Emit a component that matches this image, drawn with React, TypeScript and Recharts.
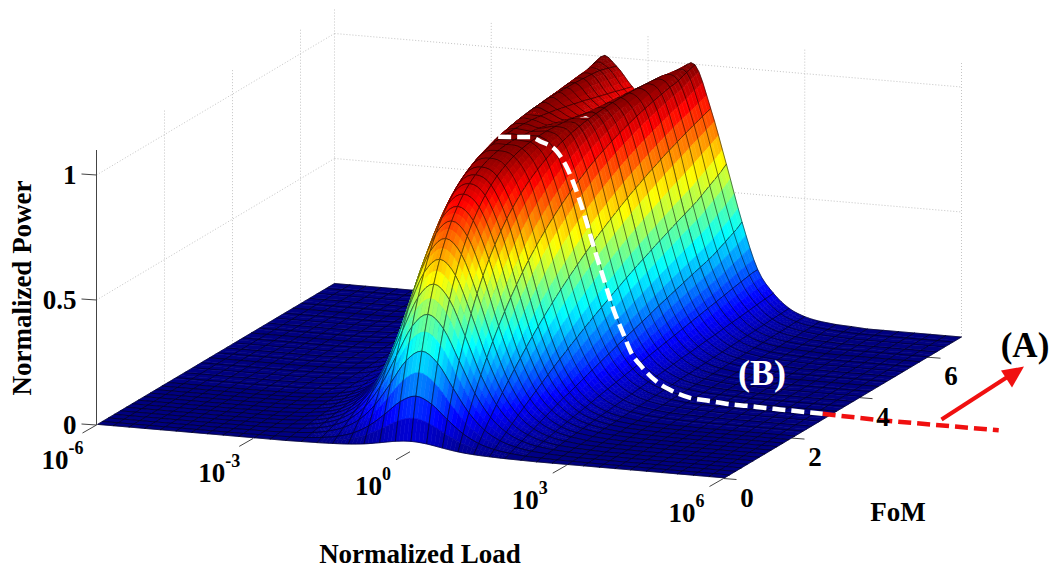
import { Scatter, ScatterChart, XAxis, YAxis } from "recharts";

const WIDTH = 1050;
const HEIGHT = 571;

// log10 of normalized load, one entry per table column
const loadExponents = [
  -6, -5.7, -5.4, -5.1, -4.8, -4.5, -4.2, -3.9, -3.6, -3.3, -3, -2.7, -2.4, -2.1, -1.8, -1.5, -1.2, -0.9, -0.6, -0.3,
  0, 0.3, 0.6, 0.9, 1.2, 1.5, 1.8, 2.1, 2.4, 2.7, 3, 3.3, 3.6, 3.9, 4.2, 4.5, 4.8, 5.1, 5.4, 5.7, 6,
];

// one entry per table row
const fomValues = [
  0.03, 0.175, 0.35, 0.525, 0.7, 0.875, 1.05, 1.225, 1.4, 1.575, 1.75, 1.925, 2.1, 2.275, 2.45, 2.625, 2.8, 2.975, 3.15,
  3.325, 3.5, 3.675, 3.85, 4.025, 4.2, 4.375, 4.55, 4.725, 4.9, 5.075, 5.25, 5.425, 5.6, 5.775, 5.95, 6.125, 6.3, 6.475,
  6.65, 6.825, 7,
];

// FoM of the black lines running along the load axis
const meshFom = [
  0.03, 0.175, 0.35, 0.525, 0.7, 0.875, 1.05, 1.225, 1.4, 1.575, 1.75, 1.925, 2.1, 2.345, 2.59, 2.835, 3.08, 3.325, 3.57,
  3.815, 4.06, 4.305, 4.55, 4.795, 5.04, 5.285, 5.53, 5.775, 6.02, 6.265, 6.51, 6.755, 7,
];

// normalized power, rows follow fomValues and columns follow loadExponents
const powerTable = [
  [0,0,0,0,0,0,0, 0,0,0,0,0,0,.001,.002,.004,.007,.013,.023,.034,.039,.034,.023,.013,.007,.004,.002,.001,0,0,0,0,0,0, 0,0,0,0,0,0,0],
  [0,0,0,0,0,0,0, 0,0,0,.001,.001,.003,.005,.011,.021,.04,.074,.125,.181,.208,.181,.125,.074,.04,.021,.011,.005,.003,.001,.001,0,0,0, 0,0,0,0,0,0,0],
  [0,0,0,0,0,0,0, 0,0,.001,.001,.003,.006,.011,.022,.042,.079,.143,.235,.331,.374,.331,.235,.143,.079,.042,.022,.011,.006,.003,.001,.001,0,0, 0,0,0,0,0,0,0],
  [0,0,0,0,0,0,0, 0,.001,.001,.002,.004,.008,.016,.032,.062,.117,.207,.331,.454,.507,.454,.331,.207,.117,.062,.032,.016,.008,.004,.002,.001,.001,0, 0,0,0,0,0,0,0],
  [0,0,0,0,0,0,0, 0,.001,.001,.003,.006,.011,.022,.043,.082,.153,.266,.416,.556,.614,.556,.416,.266,.153,.082,.043,.022,.011,.006,.003,.001,.001,0, 0,0,0,0,0,0,0],
  [0,0,0,0,0,0,0, 0,.001,.002,.004,.007,.014,.027,.053,.102,.187,.321,.491,.64,.699,.64,.491,.321,.187,.102,.053,.027,.014,.007,.004,.002,.001,0, 0,0,0,0,0,0,0],
  [0,0,0,0,0,0,0, .001,.001,.002,.004,.008,.017,.033,.064,.12,.22,.372,.557,.71,.768,.71,.557,.372,.22,.12,.064,.033,.017,.008,.004,.002,.001,.001, 0,0,0,0,0,0,0],
  [0,0,0,0,0,0,0, .001,.001,.002,.005,.01,.019,.038,.075,.139,.252,.419,.615,.768,.824,.768,.615,.419,.252,.139,.075,.038,.019,.01,.005,.002,.001,.001, 0,0,0,0,0,0,0],
  [0,0,0,0,0,0,0, .001,.001,.003,.006,.011,.022,.044,.085,.157,.282,.463,.666,.816,.868,.816,.666,.463,.282,.157,.085,.044,.022,.011,.006,.003,.001,.001, 0,0,0,0,0,0,0],
  [0,0,0,0,0,0,0, .001,.002,.003,.006,.013,.025,.049,.096,.175,.312,.504,.711,.856,.903,.856,.711,.504,.312,.175,.096,.049,.025,.013,.006,.003,.002,.001, 0,0,0,0,0,0,0],
  [0,0,0,0,0,0,0, .001,.002,.004,.007,.014,.028,.054,.106,.193,.34,.542,.751,.889,.931,.889,.751,.542,.34,.193,.106,.054,.028,.014,.007,.004,.002,.001, 0,0,0,0,0,0,0],
  [0,0,0,0,0,0,0, .001,.002,.004,.008,.015,.031,.059,.113,.21,.367,.578,.787,.916,.952,.916,.787,.578,.367,.21,.113,.059,.031,.015,.008,.004,.002,.001, 0,0,0,0,0,0,0],
  [0,0,0,0,0,0,0, .001,.002,.004,.008,.017,.033,.064,.123,.227,.393,.611,.817,.938,.969,.938,.817,.611,.393,.227,.123,.064,.033,.017,.008,.004,.002,.001, 0,0,0,0,0,0,0],
  [0,0,0,0,0,0,0, .001,.002,.005,.009,.018,.036,.07,.132,.243,.418,.641,.845,.955,.981,.955,.845,.641,.418,.243,.132,.07,.036,.018,.009,.005,.002,.001, 0,0,0,0,0,0,0],
  [0,0,0,0,0,0,0, .001,.002,.005,.01,.02,.039,.075,.142,.26,.442,.67,.869,.969,.99,.969,.869,.67,.442,.26,.142,.075,.039,.02,.01,.005,.002,.001, 0,0,0,0,0,0,0],
  [0,0,0,0,0,0,0, .001,.003,.005,.011,.021,.042,.08,.151,.275,.465,.696,.89,.98,.996,.98,.89,.696,.465,.275,.151,.08,.042,.021,.011,.005,.003,.001, 0,0,0,0,0,0,0],
  [0,0,0,0,0,0,0, .001,.003,.006,.011,.022,.044,.085,.16,.291,.487,.721,.908,.988,.999,.988,.908,.721,.487,.291,.16,.085,.044,.022,.011,.006,.003,.001, 0,0,0,0,0,0,0],
  [0,0,0,0,0,0,0, .001,.003,.006,.012,.024,.047,.09,.169,.306,.508,.744,.924,.993,1,.993,.924,.744,.508,.306,.169,.09,.047,.024,.012,.006,.003,.001, 0,0,0,0,0,0,0],
  [0,0,0,0,0,0,0, .002,.003,.006,.013,.025,.05,.095,.178,.321,.529,.765,.938,.997,.999,.997,.938,.765,.529,.321,.178,.095,.05,.025,.013,.006,.003,.002, 0,0,0,0,0,0,0],
  [0,0,0,0,0,0,0, .002,.003,.007,.013,.027,.053,.1,.188,.335,.549,.785,.951,.999,.997,.999,.951,.785,.549,.335,.188,.1,.053,.027,.013,.007,.003,.002, 0,0,0,0,0,0,0],
  [0,0,0,0,0,0,0, .002,.004,.007,.014,.028,.056,.105,.196,.349,.568,.804,.961,1,.994,1,.961,.804,.568,.349,.196,.105,.056,.028,.014,.007,.004,.002, 0,0,0,0,0,0,0],
  [0,0,0,0,0,0,0, .002,.004,.007,.015,.029,.058,.11,.205,.364,.587,.82,.969,.999,.99,.999,.969,.82,.587,.364,.205,.11,.058,.029,.015,.007,.004,.002, 0,0,0,0,0,0,0],
  [0,0,0,0,0,0,0, .002,.004,.008,.015,.031,.061,.115,.213,.377,.604,.837,.977,.998,.985,.998,.977,.837,.604,.377,.213,.115,.061,.031,.015,.008,.004,.002, 0,0,0,0,0,0,0],
  [0,0,0,0,0,0,0, .002,.004,.008,.016,.032,.064,.12,.222,.391,.621,.852,.983,.995,.979,.995,.983,.852,.621,.391,.222,.12,.064,.032,.016,.008,.004,.002, 0,0,0,0,0,0,0],
  [0,0,0,0,0,0,0, .002,.004,.008,.017,.033,.067,.125,.23,.404,.637,.866,.988,.992,.972,.992,.988,.866,.637,.404,.23,.125,.067,.033,.017,.008,.004,.002, 0,0,0,0,0,0,0],
  [0,0,0,0,0,0,0, .002,.004,.009,.017,.035,.07,.13,.239,.417,.653,.878,.992,.988,.965,.988,.992,.878,.653,.417,.239,.13,.07,.035,.017,.009,.004,.002, 0,0,0,0,0,0,0],
  [0,0,0,0,0,0,0, .002,.005,.009,.018,.036,.072,.135,.248,.429,.668,.89,.995,.983,.958,.983,.995,.89,.668,.429,.248,.135,.072,.036,.018,.009,.005,.002, 0,0,0,0,0,0,0],
  [0,0,0,0,0,0,0, .002,.005,.009,.019,.038,.075,.14,.256,.441,.683,.901,.997,.978,.95,.978,.997,.901,.683,.441,.256,.14,.075,.038,.019,.009,.005,.002, 0,0,0,0,0,0,0],
  [0,0,0,0,0,0,0, .002,.005,.01,.02,.039,.078,.145,.264,.454,.696,.911,.999,.972,.942,.972,.999,.911,.696,.454,.264,.145,.078,.039,.02,.01,.005,.002, 0,0,0,0,0,0,0],
  [0,0,0,0,0,0,0, .003,.005,.01,.02,.04,.081,.15,.272,.465,.71,.92,1,.966,.934,.966,1,.92,.71,.465,.272,.15,.081,.04,.02,.01,.005,.003, 0,0,0,0,0,0,0],
  [0,0,0,0,0,0,0, .003,.005,.01,.021,.042,.083,.155,.28,.477,.723,.929,1,.96,.926,.96,1,.929,.723,.477,.28,.155,.083,.042,.021,.01,.005,.003, 0,0,0,0,0,0,0],
  [0,0,0,0,0,0,0, .003,.005,.011,.022,.043,.086,.16,.288,.488,.735,.937,.999,.953,.917,.953,.999,.937,.735,.488,.288,.16,.086,.043,.022,.011,.005,.003, 0,0,0,0,0,0,0],
  [0,0,0,0,0,0,0, .003,.006,.011,.022,.045,.089,.165,.296,.5,.748,.944,.999,.947,.909,.947,.999,.944,.748,.5,.296,.165,.089,.045,.022,.011,.006,.003, 0,0,0,0,0,0,0],
  [0,0,0,0,0,0,0, .003,.006,.012,.023,.046,.092,.17,.303,.51,.759,.951,.998,.939,.9,.939,.998,.951,.759,.51,.303,.17,.092,.046,.023,.012,.006,.003, 0,0,0,0,0,0,0],
  [0,0,0,0,0,0,0, .003,.006,.012,.024,.047,.094,.175,.311,.521,.77,.957,.996,.932,.891,.932,.996,.957,.77,.521,.311,.175,.094,.047,.024,.012,.006,.003, 0,0,0,0,0,0,0],
  [0,0,0,0,0,0,0, .003,.006,.012,.025,.049,.097,.18,.319,.532,.781,.963,.994,.925,.883,.925,.994,.963,.781,.532,.319,.18,.097,.049,.025,.012,.006,.003, 0,0,0,0,0,0,0],
  [0,0,0,0,0,0,0, .003,.006,.013,.025,.05,.1,.185,.331,.547,.791,.968,.992,.918,.874,.918,.992,.968,.791,.547,.331,.185,.1,.05,.025,.013,.006,.003, 0,0,0,0,0,0,0],
  [0,0,0,0,0,0,0, .003,.006,.013,.026,.052,.103,.19,.343,.562,.801,.972,.989,.911,.866,.911,.989,.972,.801,.562,.343,.19,.103,.052,.026,.013,.006,.003, 0,0,0,0,0,0,0],
  [0,0,0,0,0,0,0, .003,.007,.013,.027,.053,.106,.194,.356,.577,.81,.982,.982,.903,.857,.903,.982,.982,.81,.577,.356,.194,.106,.053,.027,.013,.007,.003, 0,0,0,0,0,0,0],
  [0,0,0,0,0,0,0, .003,.007,.014,.027,.054,.108,.199,.368,.592,.82,.99,.974,.896,.848,.896,.974,.99,.82,.592,.368,.199,.108,.054,.027,.014,.007,.003, 0,0,0,0,0,0,0],
  [0,0,0,0,0,0,0, .004,.007,.014,.028,.056,.111,.2,.385,.611,.828,.998,.965,.889,.84,.889,.965,.998,.828,.611,.385,.2,.111,.056,.028,.014,.007,.004, 0,0,0,0,0,0,0],
];

// dashed operating curve
const curveFom = 3.1;
const curveBLoad = [
  -0.33, -0.1, 0.1, 0.28, 0.47, 0.8, 0.99, 1.14, 1.35, 1.46, 1.68, 1.9, 2.06, 2.21, 2.42, 2.69, 3, 3.36, 3.72, 4.07, 4.43,
  4.78, 5.06, 5.88,
];
const curveBPower = [
  1.003, 1.007, 1.01, 1.013, 1.0, 0.963, 0.902, 0.829, 0.7, 0.623, 0.478, 0.339, 0.261, 0.188, 0.132, 0.08, 0.046, 0.024,
  0.019, 0.013, 0.012, 0.01, 0.009, 0.006,
];
const curveALoad = [5.88, 7, 8, 9.25];
const curveAPower = [0.006, 0, 0, 0];

const loadTicks = [-6, -3, 0, 3, 6];
const fomTicks = [0, 2, 4, 6];
const powerTicks = [0, 0.5, 1];
const powerTickLabels = ["0", "0.5", "1"];

const FOM_MAX = 7;
const POWER_TOP = 1.1;

const SERIF = '"Liberation Serif", "Times New Roman", serif';

// orthographic view of the box, screen units per full axis
const project = (load: number, fom: number, power: number) => {
  const u = (load + 6) / 12;
  const v = fom / FOM_MAX;
  return {
    x: 96.5 + 627 * u + 238 * v,
    y: 425 + 53.5 * u - 141.5 * v - 250 * power,
  };
};

const clamp = (n: number) => Math.max(0, Math.min(1, n));
const jet = (t: number) => {
  const r = clamp(1.5 - Math.abs(4 * t - 3));
  const g = clamp(1.5 - Math.abs(4 * t - 2));
  const b = clamp(1.5 - Math.abs(4 * t - 1));
  return `rgb(${Math.round(r * 255)},${Math.round(g * 255)},${Math.round(b * 255)})`;
};

// the surface is smooth between mesh lines, so each cell is drawn with a
// spline through the table, the same idea as a curve type on a line series
const hermite = (p0: number, p1: number, m0: number, m1: number, t: number) => {
  const t2 = t * t;
  const t3 = t2 * t;
  return (2 * t3 - 3 * t2 + 1) * p0 + (t3 - 2 * t2 + t) * m0 + (-2 * t3 + 3 * t2) * p1 + (t3 - t2) * m1;
};

const alongLoad = (row: number[], j: number, a: number) => {
  const at = (k: number) => row[Math.max(0, Math.min(row.length - 1, k))];
  return hermite(at(j), at(j + 1), (at(j + 1) - at(j - 1)) / 2, (at(j + 2) - at(j)) / 2, a);
};

const surfaceAt = (i: number, j: number, a: number, b: number) => {
  const last = fomValues.length - 1;
  const r = (k: number) => alongLoad(powerTable[Math.max(0, Math.min(last, k))], j, a);
  const f = (k: number) => fomValues[Math.max(0, Math.min(last, k))];
  const span = f(i + 1) - f(i);
  const m0 = ((r(i + 1) - r(i - 1)) / (f(i + 1) - f(i - 1))) * span;
  const m1 = ((r(i + 2) - r(i)) / (f(i + 2) - f(i))) * span;
  return Math.max(0, hermite(r(i), r(i + 1), m0, m1, b));
};

const cells: any[] = [];
// back rows first, then left to right, so nearer cells cover farther ones
for (let i = fomValues.length - 2; i >= 0; i--) {
  for (let j = 0; j < loadExponents.length - 1; j++) {
    const corners = [powerTable[i][j], powerTable[i][j + 1], powerTable[i + 1][j + 1], powerTable[i + 1][j]];
    const flat = Math.max(...corners) - Math.min(...corners) < 0.012;
    const nu = flat ? 1 : 4;
    const nv = flat ? 1 : 2;
    const center = project(
      (loadExponents[j] + loadExponents[j + 1]) / 2,
      (fomValues[i] + fomValues[i + 1]) / 2,
      corners.reduce((s, c) => s + c, 0) / 4,
    );
    const sample = (a: number, b: number) => {
      const p = surfaceAt(i, j, a, b);
      const load = loadExponents[j] + a * (loadExponents[j + 1] - loadExponents[j]);
      const fom = fomValues[i] + b * (fomValues[i + 1] - fomValues[i]);
      const s = project(load, fom, p);
      return { x: +(s.x - center.x).toFixed(2), y: +(s.y - center.y).toFixed(2), p };
    };
    // sample grid inside the cell
    const grid: { x: number; y: number; p: number }[][] = [];
    for (let vi = 0; vi <= nv; vi++) {
      const line = [];
      for (let ui = 0; ui <= nu; ui++) line.push(sample(ui / nu, vi / nv));
      grid.push(line);
    }
    const facets = [];
    for (let vi = nv - 1; vi >= 0; vi--) {
      for (let ui = 0; ui < nu; ui++) {
        const q = [grid[vi][ui], grid[vi][ui + 1], grid[vi + 1][ui + 1], grid[vi + 1][ui]];
        facets.push({
          points: q.map((c) => `${c.x},${c.y}`).join(" "),
          fill: jet(q.reduce((s, c) => s + c.p, 0) / 4),
        });
      }
    }
    // black lines: both load sides, plus any mesh FoM that falls in this cell
    const polyline = (pts: { x: number; y: number }[]) => "M" + pts.map((c) => `${c.x} ${c.y}`).join("L");
    const paths = [polyline(grid.map((l) => l[0])), polyline(grid.map((l) => l[nu]))];
    const span = fomValues[i + 1] - fomValues[i];
    meshFom
      .filter((f) => f >= fomValues[i] && f <= fomValues[i + 1])
      .forEach((f) => {
        const b = (f - fomValues[i]) / span;
        const pts = [];
        for (let ui = 0; ui <= nu; ui++) pts.push(sample(ui / nu, b));
        paths.push(polyline(pts));
      });
    cells.push({ x: center.x, y: center.y, facets, edge: paths.join("") });
  }
}

const Cell = (props: any) => {
  const { cx, cy, payload } = props;
  return (
    <g transform={`translate(${cx},${cy})`}>
      {payload.facets.map((f: any, i: number) => (
        <polygon key={i} points={f.points} fill={f.fill} stroke={f.fill} strokeWidth={0.6} />
      ))}
      <path d={payload.edge} fill="none" stroke="#000" strokeOpacity={0.8} strokeWidth={0.65} />
    </g>
  );
};

const NoDot = () => <g />;

const TextMark = (props: any) => {
  const { cx, cy, payload } = props;
  const size = payload.size ?? 27;
  return (
    <text
      x={cx}
      y={cy}
      fontFamily={SERIF}
      fontWeight="bold"
      fontSize={size}
      fill={payload.fill ?? "#000"}
      textAnchor={payload.anchor ?? "middle"}
      transform={payload.rotate ? `rotate(${payload.rotate} ${cx} ${cy})` : undefined}
    >
      {payload.text}
      {payload.sup !== undefined && (
        <tspan fontSize={18} dy={-15}>
          {payload.sup}
        </tspan>
      )}
    </text>
  );
};

const ArrowHead = (props: any) => {
  const { cx, cy } = props;
  return <polygon points={`${cx},${cy} ${cx - 12},${cy + 21} ${cx - 23},${cy + 4}`} fill="#f01010" />;
};

const WALL = { stroke: "#c4c4c4", strokeWidth: 1, strokeDasharray: "1 2" };
const AXIS = { stroke: "#444", strokeWidth: 1 };

// back walls and their grid
const wallLines = [
  [project(-6, FOM_MAX, 0), project(-6, FOM_MAX, POWER_TOP)],
  ...[2, 4, 6].map((f) => [project(-6, f, 0), project(-6, f, POWER_TOP)]),
  ...loadTicks.slice(1).map((l) => [project(l, FOM_MAX, 0), project(l, FOM_MAX, POWER_TOP)]),
  ...[0.5, 1].map((p) => [project(-6, 0, p), project(-6, FOM_MAX, p)]),
  ...[0.5, 1].map((p) => [project(-6, FOM_MAX, p), project(6, FOM_MAX, p)]),
];

const shift = (p: { x: number; y: number }, dx: number, dy: number) => ({ x: p.x + dx, y: p.y + dy });

const axisLines = [
  [project(-6, 0, 0), project(-6, 0, POWER_TOP)],
  ...loadTicks.map((l) => [project(l, 0, 0), shift(project(l, 0, 0), -14, 8)]),
  ...fomTicks.map((f) => [project(6, f, 0), shift(project(6, f, 0), 13, 1)]),
  ...powerTicks.map((p) => [project(-6, 0, p), shift(project(-6, 0, p), -15, -1)]),
];

const labels = [
  ...loadTicks.map((l) => ({
    ...shift(project(l, 0, 0), -55, 43.5),
    text: "10",
    sup: String(l),
    anchor: "start",
  })),
  ...fomTicks.map((f) => ({ ...shift(project(6, f, 0), 23.5, 28), text: String(f) })),
  ...powerTicks.map((p, i) => ({
    ...shift(project(-6, 0, p), -20, 9),
    text: powerTickLabels[i],
    anchor: "end",
  })),
  { x: 31, y: 288, text: "Normalized Power", rotate: -90 },
  { x: 420, y: 563, text: "Normalized Load" },
  { x: 898, y: 521, text: "FoM" },
  { x: 1025, y: 357, text: "(A)", size: 35 },
  { x: 762, y: 385, text: "(B)", size: 36, fill: "#fff" },
];

const curveB = curveBLoad.map((l, i) => project(l, curveFom, curveBPower[i]));
const curveA = curveALoad.map((l, i) => project(l, curveFom, curveAPower[i]));

const arrowShaft = [
  { x: 941.5, y: 419.5 },
  { x: 1012, y: 374 },
];
const arrowTip = [{ x: 1024, y: 366.5 }];

export default function App() {
  return (
    <div style={{ position: "absolute", left: 0, top: 0, width: WIDTH, height: HEIGHT, background: "#fff" }}>
      <ScatterChart width={WIDTH} height={HEIGHT} margin={{ top: 0, right: 0, bottom: 0, left: 0 }}>
        <XAxis type="number" dataKey="x" domain={[0, WIDTH]} hide />
        <YAxis type="number" dataKey="y" domain={[0, HEIGHT]} reversed hide />
        {wallLines.map((pts, i) => (
          <Scatter key={`wall-${i}`} data={pts} line={WALL} shape={NoDot} isAnimationActive={false} />
        ))}
        {axisLines.map((pts, i) => (
          <Scatter key={`axis-${i}`} data={pts} line={AXIS} shape={NoDot} isAnimationActive={false} />
        ))}
        <Scatter data={cells} shape={Cell} isAnimationActive={false} />
        <Scatter
          data={curveA}
          line={{ stroke: "#f01010", strokeWidth: 4.5, strokeDasharray: "13 6" }}
          shape={NoDot}
          isAnimationActive={false}
        />
        <Scatter
          data={curveB}
          line={{ stroke: "#fff", strokeWidth: 4.5, strokeDasharray: "13 6" }}
          lineType="joint"
          lineJointType="monotoneX"
          shape={NoDot}
          isAnimationActive={false}
        />
        <Scatter data={arrowShaft} line={{ stroke: "#f01010", strokeWidth: 4 }} shape={NoDot} isAnimationActive={false} />
        <Scatter data={arrowTip} shape={ArrowHead} isAnimationActive={false} />
        <Scatter data={labels} shape={TextMark} isAnimationActive={false} />
      </ScatterChart>
    </div>
  );
}
